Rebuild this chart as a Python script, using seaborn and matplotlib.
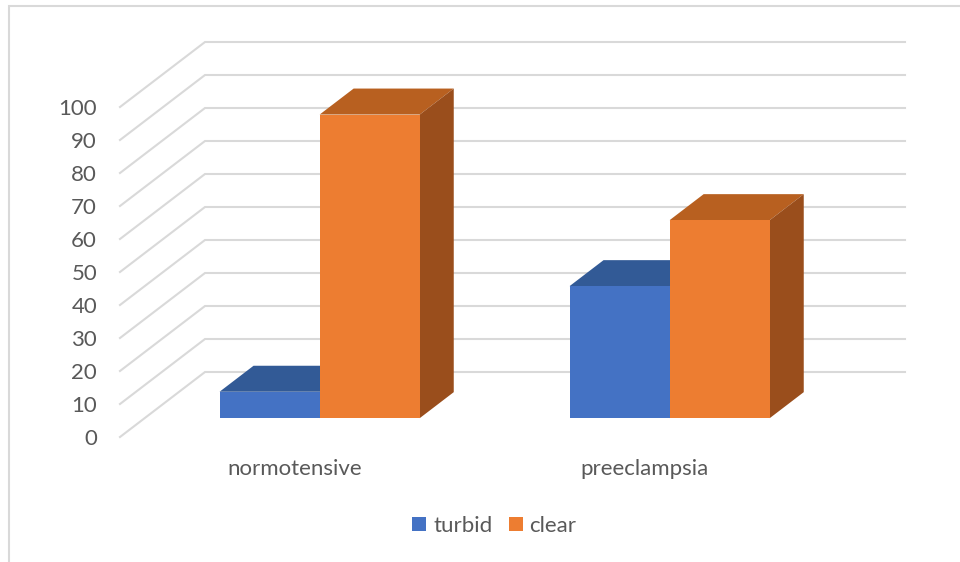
import pandas as pd
import matplotlib.pyplot as plt
from matplotlib.lines import Line2D
from matplotlib.patches import Polygon
import seaborn as sns

# Values
groups = ['normotensive', 'preeclampsia']
series = ['turbid', 'clear']
turbid_values = [8, 40]
clear_values = [92, 60]
y_ticks = [0, 10, 20, 30, 40, 50, 60, 70, 80, 90, 100]

colors = {'turbid': '#4472C4', 'clear': '#ED7D31'}
top_colors = {'turbid': '#325A96', 'clear': '#B86020'}
side_colors = {'turbid': '#2A4C85', 'clear': '#9A4E1C'}
grid_color = '#D9D9D9'
text_color = '#595959'
font_size = 16

df = pd.DataFrame({
    'group': groups * 2,
    'series': [series[0]] * 2 + [series[1]] * 2,
    'value': turbid_values + clear_values,
})

plt.rcParams['font.family'] = ['Lato', 'DejaVu Sans']
W, H = 960, 562
fig = plt.figure(figsize=(W / 100, H / 100), dpi=100)
# the axes is the front plane of the 3D box, the depth goes up and to the right
ax = fig.add_axes([120 / W, 1 - 437 / H, 700 / W, 330 / H])

sns.barplot(data=df, x='group', y='value', hue='series', hue_order=series, palette=colors,
            saturation=1, width=0.572, gap=0, ax=ax, legend=False)
ax.set_xlim(-0.5, 1.5)
ax.set_ylim(0, 100)

# size of the full depth in data units
depth_x = 85 / 350
depth_y = 65 / 3.3
bar_start = 0.29
bar_depth = 0.40

# walls of the box
for v in y_ticks:
    xs = [-0.5, -0.5 + depth_x, 1.5 + depth_x]
    ys = [v, v + depth_y, v + depth_y]
    ax.plot(xs, ys, color=grid_color, lw=1.5, clip_on=False, zorder=1, solid_joinstyle='miter')

# extruded bars
for i, (name, container) in enumerate(zip(series, ax.containers)):
    for bar in container:
        x0 = bar.get_x() + bar_start * depth_x
        w = bar.get_width()
        v = bar.get_height()
        y0 = bar_start * depth_y
        dx = bar_depth * depth_x
        dy = bar_depth * depth_y
        bar.set_x(x0)
        bar.set_y(y0)
        bar.set_clip_on(False)
        bar.set_linewidth(0)
        bar.set_zorder(4 + i * 3)
        top = Polygon([(x0, y0 + v), (x0 + w, y0 + v), (x0 + w + dx, y0 + v + dy), (x0 + dx, y0 + v + dy)],
                      closed=True, fc=top_colors[name], ec='none', clip_on=False, zorder=2 + i * 3)
        side = Polygon([(x0 + w, y0), (x0 + w + dx, y0 + dy), (x0 + w + dx, y0 + v + dy), (x0 + w, y0 + v)],
                       closed=True, fc=side_colors[name], ec='none', clip_on=False, zorder=3 + i * 3)
        ax.add_patch(top)
        ax.add_patch(side)

sns.despine(ax=ax, left=True, bottom=True)
ax.set_xlabel('')
ax.set_ylabel('')
ax.set_yticks(y_ticks)
ax.tick_params(axis='y', length=0, pad=16.5, labelsize=font_size, labelcolor=text_color)
ax.tick_params(axis='x', length=0, pad=16, labelsize=font_size, labelcolor=text_color)

# legend at the bottom
handles = [plt.Rectangle((0, 0), 1, 1, fc=colors[s], ec='none') for s in series]
fig.legend(handles, series, loc='center', bbox_to_anchor=(494.5 / W, 1 - 526 / H), ncol=2, frameon=False,
           fontsize=font_size, labelcolor=text_color, handlelength=0.63, handleheight=0.63,
           handletextpad=0.3, columnspacing=0.75, borderpad=0)

# chart border, cut off by the image at the right and the bottom
fig.add_artist(Line2D([8.5 / W, 8.5 / W, 1], [0, 1 - 5.5 / H, 1 - 5.5 / H], color=grid_color, lw=1.5,
                      solid_joinstyle='miter'))

plt.savefig('out.png', dpi=100)
